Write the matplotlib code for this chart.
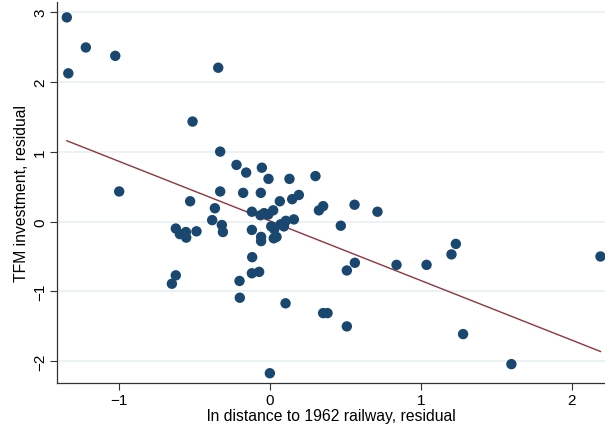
import numpy as np
import matplotlib
matplotlib.use("Agg")
import matplotlib.pyplot as plt

plt.rcParams['font.family'] = ['Liberation Sans', 'DejaVu Sans']

# residuals
dist_resid = [
    -1.345, -1.335, -1.219, -1.024, -0.998, -0.342, -0.512, -0.329, -0.221, -0.157,
    -0.053, -0.009, 0.130, 0.302, -0.329, -0.177, -0.060, -0.528, 0.066, 0.148,
    0.192, -0.364, 0.325, -0.119, -0.062, -0.038, -0.011, 0.022, -0.382, -0.318,
    -0.311, -0.623, -0.596, -0.556, -0.554, -0.486, -0.119, 0.009, 0.029, 0.071,
    0.106, 0.093, 0.159, -0.058, -0.058, 0.026, 0.044, -0.117, -0.119, -0.071,
    -0.201, -0.199, 0.104, 0.000, -0.623, -0.649, 0.353, 0.561, 0.713, 0.470,
    0.563, 0.510, 0.839, 1.038, 1.203, 1.232, 0.353, 0.382, 0.510, 1.280,
    1.600, 2.190,
]
tfm_resid = [
    2.92, 2.12, 2.49, 2.37, 0.43, 2.20, 1.43, 1.00, 0.81, 0.70,
    0.77, 0.61, 0.61, 0.65, 0.43, 0.41, 0.41, 0.29, 0.29, 0.32,
    0.38, 0.19, 0.16, 0.14, 0.09, 0.12, 0.10, 0.16, 0.02, -0.05,
    -0.15, -0.10, -0.18, -0.15, -0.23, -0.14, -0.12, -0.07, -0.11, -0.04,
    0.01, -0.07, 0.03, -0.22, -0.28, -0.24, -0.22, -0.51, -0.74, -0.72,
    -0.85, -1.09, -1.17, -2.17, -0.77, -0.89, 0.22, 0.24, 0.14, -0.06,
    -0.59, -0.70, -0.62, -0.62, -0.47, -0.32, -1.31, -1.31, -1.50, -1.61,
    -2.04, -0.50,
]

x_ticks = [-1, 0, 1, 2]
y_ticks = [-2, -1, 0, 1, 2, 3]

x = np.array(dist_resid)
y = np.array(tfm_resid)
slope, intercept = np.polyfit(x, y, 1)
xl = np.array([x.min(), x.max()])

fig = plt.figure(figsize=(6.05, 4.31), dpi=100)
ax = fig.add_axes([0.0942, 0.109, 0.9058, 0.884])

# light horizontal grid like Stata's scheme
for yt in y_ticks:
    ax.axhline(yt, color='#e6eff1', lw=1.1, zorder=0)

ax.scatter(x, y, s=56, color='#1a476f', edgecolors='none', zorder=3)
ax.plot(xl, intercept + slope * xl, color='#90353b', lw=1.0, zorder=2)

ax.set_xlim(-1.41, 2.22)
ax.set_ylim(-2.31, 3.14)
ax.set_xticks(x_ticks)
ax.set_yticks(y_ticks)
ax.set_xticklabels(['\u2212' + str(-t) if t < 0 else str(t) for t in x_ticks], fontsize=11)
ax.set_yticklabels(['\u2212' + str(-t) if t < 0 else str(t) for t in y_ticks], fontsize=11,
                   rotation=90, va='center')
ax.tick_params(axis='both', direction='out', length=5, width=0.8, color='#333333', pad=2)

for side in ['top', 'right']:
    ax.spines[side].set_visible(False)
for side in ['left', 'bottom']:
    ax.spines[side].set_color('#333333')
    ax.spines[side].set_linewidth(0.9)

ax.set_xlabel('ln distance to 1962 railway, residual', fontsize=11.3, labelpad=1)
ax.set_ylabel('TFM investment, residual', fontsize=11.3, labelpad=3)

fig.savefig('out.png', dpi=100)
